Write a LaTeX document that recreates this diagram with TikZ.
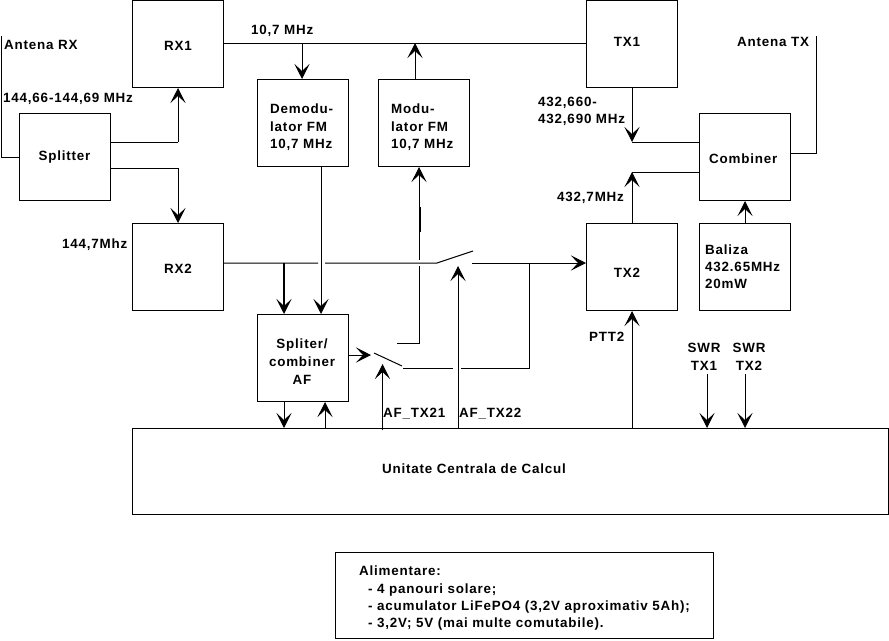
\documentclass[tikz,border=0pt]{standalone}
\usepackage{fontspec}
\setmainfont{Liberation Sans}[LetterSpace=6]
\usetikzlibrary{arrows.meta}
\tikzset{
  x=1pt,y=-1pt,
  block/.style={draw=black,line width=1pt,fill=white,minimum width=91pt,minimum height=87pt,inner sep=0pt,anchor=north west},
  lbl/.style={anchor=base west,inner sep=0pt,font=\fontsize{13.4}{15}\selectfont\bfseries},
  clbl/.style={anchor=base,inner sep=0pt,font=\fontsize{13.4}{15}\selectfont\bfseries},
  wire/.style={draw=black,line width=1pt},
  feed/.style={wire,-{Stealth[length=15pt,width=15pt,inset=7pt]}},
}
\begin{document}
\begin{tikzpicture}
\useasboundingbox (0,0) rectangle (889,640);
% Blocks
\node[block] (rx1) at (132,0) {};
\node[block] (spl) at (19,113) {};
\node[block] (rx2) at (132,223) {};
\node[block] (dem) at (257,79) {};
\node[block] (mod) at (378,79) {};
\node[block] (tx1) at (586,0) {};
\node[block] (tx2) at (586,223) {};
\node[block] (cmb) at (699,113) {};
\node[block] (bal) at (699,223) {};
\node[block] (saf) at (257,314) {};
\node[block,minimum width=756pt,minimum height=86pt] (cpu) at (132,428) {};
\node[block,minimum width=378pt,minimum height=86pt] (pwr) at (335,552) {};
% Junction points
\coordinate (antrx) at (1,36);
\coordinate (antrxb) at (1,157);
\coordinate (spa) at (178,142);
\coordinate (spb) at (178,168);
\coordinate (ifbus) at (0,43);
\coordinate (demtap) at (302,43);
\coordinate (modtap) at (415,43);
\coordinate (demout) at (321,0);
\coordinate (sw1a) at (437,263);
\coordinate (sw1b) at (473,251);
\coordinate (sw2a) at (374,353);
\coordinate (sw2b) at (402,366);
\coordinate (lineL) at (223,263);
\coordinate (gapL) at (318,263);
\coordinate (gapR) at (325,263);
\coordinate (postsw) at (472,263);
\coordinate (tap) at (284,263);
\coordinate (mix) at (529,263);
\coordinate (txin) at (586,263);
\coordinate (afout) at (371,355);
\coordinate (modret) at (397,343);
\coordinate (modbend) at (419,343);
\coordinate (modlo) at (419,266);
\coordinate (modhi) at (419,260);
\coordinate (modtop) at (419,167);
\coordinate (thick1) at (420,207);
\coordinate (thick2) at (420,232);
\coordinate (h1) at (403,368);
\coordinate (h2) at (453,368);
\coordinate (h3) at (461,368);
\coordinate (h4) at (529,368);
\coordinate (af21) at (382.5,430);
\coordinate (af21t) at (382.5,364);
\coordinate (af22) at (458,428);
\coordinate (af22t) at (458,266);
\coordinate (safa) at (284,0);
\coordinate (safb) at (325,0);
\coordinate (txbus) at (632,0);
\coordinate (dtx1) at (632,142);
\coordinate (dtx2) at (632,172);
\coordinate (ptt) at (632,0);
\coordinate (balx) at (745,0);
\coordinate (ant) at (816,36);
\coordinate (antb) at (816,153);
\coordinate (swr1) at (707,374);
\coordinate (swr2) at (745,374);
% Receive side
\draw[wire] (antrx) -- (antrxb) -- (antrxb -| spl.west);
\draw[wire] (spl.east |- spa) -- (spa);
\draw[feed] (spa) -- (spa |- rx1.south);
\draw[wire] (spl.east |- spb) -- (spb);
\draw[feed] (spb) -- (spb |- rx2.north);
\draw[wire] (rx1.east |- ifbus) -- (tx1.west |- ifbus);
\draw[feed] (demtap) -- (demtap |- dem.north);
\draw[feed] (modtap |- mod.north) -- (modtap);
% Audio paths and switches
\draw[feed] (demout |- dem.south) -- (demout |- saf.north);
\draw[wire] (lineL) -- (gapL) (gapR) -- (sw1a) -- (sw1b);
\draw[feed] (postsw) -- (txin);
\draw[feed,line width=1.6pt] (tap) -- (tap |- saf.north);
\draw[wire] (modret) -- (modbend) -- (modlo);
\draw[feed] (modhi) -- (modtop);
\draw[wire,line width=1.8pt] (thick1) -- (thick2);
\draw[feed] (saf.east |- afout) -- (afout);
\draw[wire] (sw2a) -- (sw2b);
\draw[wire] (h1) -- (h2) (h3) -- (h4) -- (mix);
\draw[feed] (af21) -- (af21t);
\draw[feed] (af22) -- (af22t);
\draw[feed] (safa |- saf.south) -- (safa |- cpu.north);
\draw[feed] (safb |- cpu.north) -- (safb |- saf.south);
% Transmit side
\draw[feed] (ptt |- cpu.north) -- (ptt |- tx2.south);
\draw[wire] (dtx1) -- (dtx1 -| cmb.west);
\draw[feed] (txbus |- tx1.south) -- (dtx1);
\draw[wire] (dtx2) -- (dtx2 -| cmb.west);
\draw[feed] (txbus |- tx2.north) -- (dtx2);
\draw[feed] (balx |- bal.north) -- (balx |- cmb.south);
\draw[wire] (cmb.east |- antb) -- (antb) -- (ant);
\draw[feed] (swr1) -- (swr1 |- cpu.north);
\draw[feed] (swr2) -- (swr2 |- cpu.north);
% Labels
\node[lbl] (t1) at (4,49) {Antena RX};
\node[lbl] (t2) at (3,102) {144,66-144,69 MHz};
\node[clbl] (t3) at (178,50) {RX1};
\node[clbl] (t4) at (64.5,160) {Splitter};
\node[lbl] (t5) at (251,34) {10,7 MHz};
\node[lbl] (t6) at (270,113) {Demodu-};
\node[lbl] (t7) at (270,131) {lator FM};
\node[lbl] (t8) at (270,148) {10,7 MHz};
\node[lbl] (t9) at (391,113) {Modu-};
\node[lbl] (t10) at (391,131) {lator FM};
\node[lbl] (t11) at (391,148) {10,7 MHz};
\node[lbl] (t12) at (62,248) {144,7Mhz};
\node[clbl] (t13) at (178,273) {RX2};
\node[clbl] (t14) at (302,348) {Spliter/};
\node[clbl] (t15) at (302,366) {combiner};
\node[clbl] (t16) at (302,384) {AF};
\node[lbl] (t17) at (383,417) {AF\_TX21};
\node[lbl] (t18) at (459,417) {AF\_TX22};
\node[lbl] (t19) at (382,473) {Unitate Centrala de Calcul};
\node[lbl] (t20) at (589,341) {PTT2};
\node[clbl] (t21) at (704,352) {SWR};
\node[clbl] (t22) at (704,370) {TX1};
\node[clbl] (t23) at (749,352) {SWR};
\node[clbl] (t24) at (749,370) {TX2};
\node[clbl] (t25) at (627,277) {TX2};
\node[lbl] (t26) at (705,254) {Baliza};
\node[lbl] (t27) at (705,271) {432.65MHz};
\node[lbl] (t28) at (705,288) {20mW};
\node[lbl] (t29) at (709,163) {Combiner};
\node[clbl] (t30) at (627,46) {TX1};
\node[lbl] (t31) at (737,46) {Antena TX};
\node[lbl] (t32) at (538,106) {432,660-};
\node[lbl] (t33) at (538,123) {432,690 MHz};
\node[lbl] (t34) at (557,201) {432,7MHz};
\node[lbl] (t35) at (359,575) {Alimentare:};
\node[lbl] (t36) at (368,593) {- 4 panouri solare;};
\node[lbl] (t37) at (368,610) {- acumulator LiFePO4 (3,2V aproximativ 5Ah);};
\node[lbl] (t38) at (368,627) {- 3,2V; 5V (mai multe comutabile).};
\end{tikzpicture}
\end{document}
